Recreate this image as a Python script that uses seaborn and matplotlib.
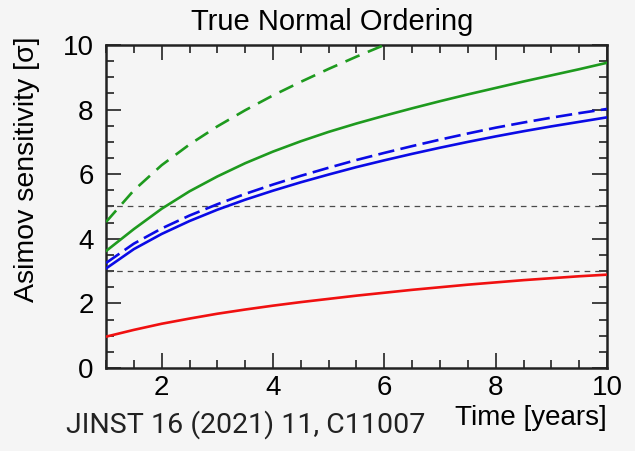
import matplotlib
matplotlib.use("Agg")
import matplotlib.pyplot as plt
import seaborn as sns
import numpy as np
import pandas as pd
from matplotlib.ticker import MultipleLocator

# ---- data ----
years = [1, 1.5, 2, 2.5, 3, 3.5, 4, 4.5, 5, 5.5, 6, 6.5, 7, 7.5, 8, 8.5, 9, 9.5, 10]
green_solid = [3.62, 4.30, 4.93, 5.47, 5.93, 6.34, 6.70, 7.02, 7.31, 7.57, 7.81,
               8.04, 8.26, 8.47, 8.67, 8.87, 9.06, 9.25, 9.45]
blue_dashed = [3.25, 3.85, 4.32, 4.72, 5.07, 5.39, 5.68, 5.95, 6.20, 6.44, 6.66,
               6.87, 7.07, 7.26, 7.44, 7.60, 7.75, 7.89, 8.02]
blue_solid = [3.08, 3.68, 4.15, 4.55, 4.90, 5.21, 5.49, 5.75, 5.99, 6.22, 6.43,
              6.63, 6.82, 7.00, 7.17, 7.33, 7.48, 7.62, 7.76]
red_solid = [0.97, 1.18, 1.37, 1.53, 1.68, 1.81, 1.93, 2.04, 2.14, 2.24, 2.33,
             2.42, 2.50, 2.58, 2.65, 2.72, 2.78, 2.84, 2.89]
years_gd = [1, 1.5, 2, 2.5, 3, 3.5, 4, 4.5, 5, 5.5, 6]
green_dashed = [4.52, 5.50, 6.28, 6.92, 7.48, 7.98, 8.44, 8.86, 9.26, 9.64, 10.0]
sigma_levels = [3, 5]

title = "True Normal Ordering"
ylabel = "Asimov sensitivity [σ]"
xlabel = "Time [years]"
ref_text = "JINST 16 (2021) 11, C11007"

sns.set_theme(style="white")
plt.rcParams['font.family'] = ['Liberation Sans', 'DejaVu Sans']
bg = "#f5f5f5"

fig = plt.figure(figsize=(6.35, 4.51), dpi=100, facecolor=bg)
ax = fig.add_axes([106/635, 1-368/451, (607-106)/635, (368-45)/451])
ax.set_facecolor(bg)

green = "#1e9a1e"
blue = "#0a0ae6"
red = "#f01010"

for lvl in sigma_levels:
    ax.axhline(lvl, color="#4a4a4a", lw=0.9, ls=(0, (4.5, 4)), zorder=1)

df_gs = pd.DataFrame({"t": years, "s": green_solid})
df_bd = pd.DataFrame({"t": years, "s": blue_dashed})
df_bs = pd.DataFrame({"t": years, "s": blue_solid})
df_rs = pd.DataFrame({"t": years, "s": red_solid})
df_gd = pd.DataFrame({"t": years_gd, "s": green_dashed})

sns.lineplot(data=df_gd, x="t", y="s", ax=ax, color=green, lw=1.9, ls=(0, (5.8, 3.4)), zorder=3)
sns.lineplot(data=df_gs, x="t", y="s", ax=ax, color=green, lw=1.9, zorder=3)
sns.lineplot(data=df_bd, x="t", y="s", ax=ax, color=blue, lw=1.9, ls=(0, (6.2, 2.4)), zorder=3)
sns.lineplot(data=df_bs, x="t", y="s", ax=ax, color=blue, lw=1.9, zorder=3)
sns.lineplot(data=df_rs, x="t", y="s", ax=ax, color=red, lw=1.9, zorder=3)

ax.set_xlim(1, 10)
ax.set_ylim(0, 10)
ax.xaxis.set_major_locator(MultipleLocator(2))
ax.xaxis.set_minor_locator(MultipleLocator(0.5))
ax.yaxis.set_major_locator(MultipleLocator(2))
ax.yaxis.set_minor_locator(MultipleLocator(0.5))
ax.tick_params(which="both", direction="in", top=True, right=True, bottom=True, left=True,
               colors="#222222", labelsize=20, width=1.2)
ax.tick_params(which="major", length=11, pad=5)
ax.tick_params(which="minor", length=5.5)
ax.tick_params(axis="y", pad=9)
for lab in ax.get_xticklabels() + ax.get_yticklabels():
    lab.set_color("black")
for s in ax.spines.values():
    s.set_linewidth(1.8)
    s.set_color("#222222")
ax.set_xlabel("")
ax.set_ylabel("")

fig.text(332/635, 1-22/451, title, ha="center", va="center", fontsize=21, color="black")
fig.text(27/635, 1-37/451, ylabel, rotation=90, ha="center", va="top", fontsize=20.5, color="black")
fig.text(607/635, 1-418/451, xlabel, ha="right", va="center", fontsize=20, color="black")
fig.text(66/635, 1-425/451, ref_text, ha="left", va="center", fontsize=20.5, color="#222222",
         family=["Roboto", "DejaVu Sans"])

fig.savefig("out.png", dpi=100, facecolor=bg)
